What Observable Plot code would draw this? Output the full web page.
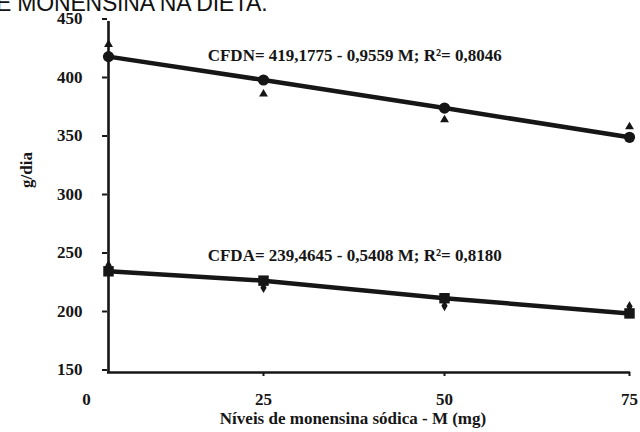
<!DOCTYPE html>
<html>
<head>
<meta charset="utf-8">
<script src="https://cdn.jsdelivr.net/npm/d3@7"></script>
<script src="https://cdn.jsdelivr.net/npm/@observablehq/plot@0.6"></script>
<style>
  html, body { margin: 0; padding: 0; background: #fff; }
  #wrap { position: relative; width: 640px; height: 432px; overflow: hidden; background: #fff; }
  #title { position: absolute; left: -4px; top: -8px; font-family: "Liberation Sans", Arial, sans-serif; font-size: 23px; line-height: 23px; color: #111; white-space: nowrap; letter-spacing: -0.2px; z-index: 2; }
  #chart { position: absolute; left: 0; top: 0; }
</style>
</head>
<body>
<div id="wrap">
  <div id="chart"></div>
  <div id="title">E MONENSINA NA DIETA.</div>
</div>
<script>
// Data
const levels = [0, 25, 50, 75];               // Níveis de monensina sódica (mg)
const cfdnObs = [430.5, 388, 366, 360];       // CFDN observed (triangles)
const cfdnFit = [420, 400, 376, 351];         // CFDN fitted (circles)
const cfdaObs = [241.5, 222.5, 207, 206.5];   // CFDA observed (diamonds)
const cfdaFit = [236.5, 228.5, 213.5, 200.5]; // CFDA fitted (squares)
const yTicks = [150, 200, 250, 300, 350, 400, 450];
const xTicks = [0, 25, 50, 75];
const eqCFDN = "CFDN= 419,1775 - 0,9559 M; R²= 0,8046";
const eqCFDA = "CFDA= 239,4645 - 0,5408 M; R²= 0,8180";
const xTitle = "Níveis de monensina sódica - M (mg)";
const yTitle = "g/dia";

const rows = (ys) => levels.map((m, i) => ({m, v: ys[i]}));
const ink = "#161616";
const font = "'Liberation Serif', 'Times New Roman', serif";

const chart = Plot.plot({
  width: 640,
  height: 432,
  marginLeft: 107,
  marginRight: 10,
  marginTop: 21,
  marginBottom: 60,
  style: {fontFamily: font, fontWeight: "bold", color: ink, background: "white", overflow: "visible"},
  x: {type: "linear", domain: xTicks, range: [108, 263, 444, 629], label: null},
  y: {domain: [150, 450], label: null},
  marks: [
    Plot.ruleX([0], {stroke: ink, strokeWidth: 2.6}),
    Plot.ruleY([150], {stroke: ink, strokeWidth: 2.6}),
    Plot.axisY(yTicks, {tickSize: 5, tickPadding: 20, fontSize: 17, dy: -2.5, stroke: ink, strokeWidth: 2, label: null}),
    Plot.axisX(xTicks.slice(1), {tickSize: 4, tickPadding: 16, fontSize: 17, stroke: ink, strokeWidth: 2, label: null}),
    Plot.axisX(xTicks.slice(0, 1), {tickSize: 0, tickPadding: 20, dx: -22, fontSize: 17, label: null}),
    Plot.line(rows(cfdnFit), {x: "m", y: "v", stroke: ink, strokeWidth: 4.5}),
    Plot.line(rows(cfdaFit), {x: "m", y: "v", stroke: ink, strokeWidth: 4.5}),
    Plot.dot(rows(cfdnObs), {x: "m", y: "v", symbol: "triangle", r: 3.3, fill: ink}),
    Plot.dot(rows(cfdaObs), {x: "m", y: "v", symbol: "diamond", r: 3.3, fill: ink}),
    Plot.dot(rows(cfdnFit), {x: "m", y: "v", symbol: "circle", r: 5.6, fill: ink}),
    Plot.dot(rows(cfdaFit), {x: "m", y: "v", symbol: "square", r: 5.9, fill: ink}),
    Plot.text([eqCFDN], {x: 16, y: 420.5, text: d => d, textAnchor: "start", fontSize: 17, fill: ink}),
    Plot.text([eqCFDA], {x: 16, y: 250, text: d => d, textAnchor: "start", fontSize: 17, fill: ink}),
    Plot.text([xTitle], {frameAnchor: "bottom", dx: -16, dy: 51, text: d => d, fontSize: 17, fill: ink}),
    Plot.text([yTitle], {frameAnchor: "left", dx: -81, dy: -9, rotate: -90, text: d => d, fontSize: 17, fill: ink})
  ]
});
document.getElementById("chart").appendChild(chart);
</script>
</body>
</html>
